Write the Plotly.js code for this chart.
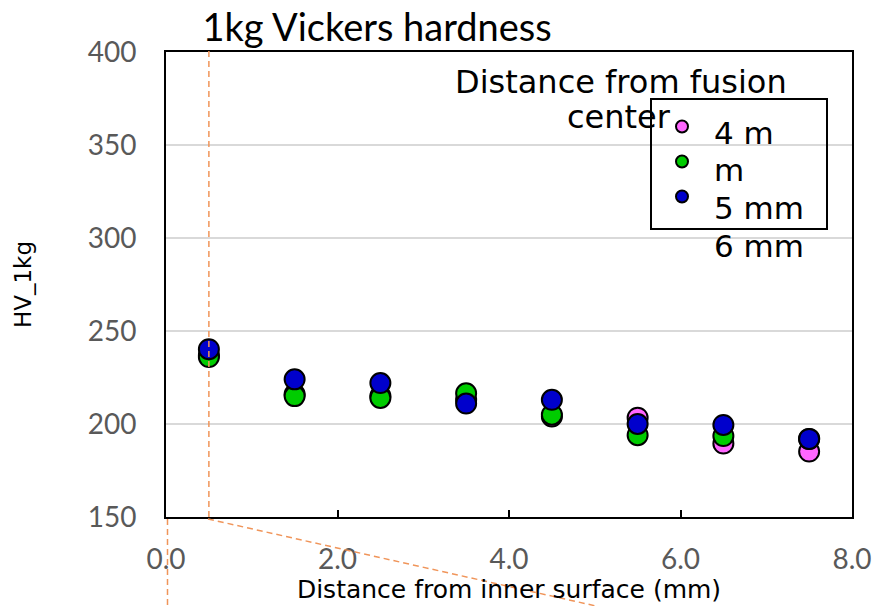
<!DOCTYPE html>
<html>
<head>
<meta charset="utf-8">
<script src="https://cdn.plot.ly/plotly-3.0.1.min.js"></script>
<style>html,body{margin:0;padding:0;background:#fff;}#chart{width:873px;height:606px;}</style>
</head>
<body>
<div id="chart"></div>
<script>
// Distance from inner surface (mm)
const distance = [0.5, 1.5, 2.5, 3.5, 4.5, 5.5, 6.5, 7.5];
// HV_1kg values by distance from fusion center
const hv4mm = [237, 216, 215, 213, 204, 203.4, 189.5, 185.2];
const hv5mm = [236, 215, 214, 216.5, 205, 194, 193.5, 192];
const hv6mm = [240.2, 224, 222, 211, 213, 200, 199.5, 192];
const seriesNames = ["4 mm", "5 mm", "6 mm"];
const legendLines = ["4 m", "m", "5 mm", "6 mm"];
const xTicks = [0, 2, 4, 6, 8];
const xTickText = ["0.0", "2.0", "4.0", "6.0", "8.0"];
const yTicks = [150, 200, 250, 300, 350, 400];

// plot-area pixel helpers for decorations (paper coords)
const L = 166, R = 852, T = 52, B = 517;
const px = v => (v - L) / (R - L);
const py = v => (B - v) / (B - T);

const markerLine = {color: "#000000", width: 2};
const traces = [
  {x: distance, y: hv4mm, name: seriesNames[0], legendgroup: "a", type: "scatter", mode: "markers",
   marker: {color: "#FF66FF", size: 20, line: markerLine}},
  {x: distance, y: hv5mm, name: seriesNames[1], legendgroup: "b", type: "scatter", mode: "markers",
   marker: {color: "#00CC00", size: 20, line: markerLine}},
  {x: distance, y: hv6mm, name: seriesNames[2], legendgroup: "c", type: "scatter", mode: "markers",
   marker: {color: "#0000CC", size: 20, line: markerLine}}
];

const orange = "#F0955A";
const legFont = {family: "DejaVu Sans, sans-serif", size: 31, color: "#000000"};
const legendAnn = legendLines.map((t, i) => ({
  text: t, xref: "paper", yref: "paper", x: px(712), y: py([133, 170, 208, 246][i]),
  xanchor: "left", yanchor: "middle", showarrow: false, font: legFont
}));

const layout = {
  width: 873, height: 606,
  margin: {l: L, r: 873 - R, t: T, b: 606 - B},
  paper_bgcolor: "#ffffff", plot_bgcolor: "#ffffff",
  title: {text: "1kg Vickers hardness", x: 0.432, xanchor: "center", xref: "container",
          y: 0.955, yanchor: "middle", yref: "container",
          font: {family: "Lato, 'Open Sans', sans-serif", size: 38, color: "#000000"}},
  xaxis: {range: [0, 8], tickvals: xTicks, ticktext: xTickText,
          showgrid: false, zeroline: false,
          showline: true, linecolor: "#000000", linewidth: 2, mirror: true,
          ticks: "inside", ticklen: 7, tickwidth: 2, tickcolor: "#000000",
          ticklabelstandoff: 16,
          tickfont: {family: "Lato, sans-serif", size: 28, color: "#595959"},
          title: {text: "Distance from inner surface (mm)", standoff: 6,
                  font: {family: "DejaVu Sans, sans-serif", size: 25, color: "#000000"}}},
  yaxis: {range: [150, 400], tickvals: yTicks,
          showgrid: true, gridcolor: "#D9D9D9", gridwidth: 2, zeroline: false,
          showline: true, linecolor: "#000000", linewidth: 2, mirror: true,
          ticks: "", ticklabelstandoff: 22,
          tickfont: {family: "Lato, sans-serif", size: 28, color: "#595959"},
          title: {text: "HV_1kg", standoff: 50,
                  font: {family: "DejaVu Sans, sans-serif", size: 23, color: "#000000"}}},
  showlegend: true,
  legend: {x: px(662), xanchor: "left", y: py(112), yanchor: "top",
           bgcolor: "rgba(255,255,255,0)", borderwidth: 0,
           font: {family: "DejaVu Sans, sans-serif", size: 1, color: "rgba(0,0,0,0)"},
           itemsizing: "constant", tracegroupgap: 16},
  shapes: [
    {type: "line", xref: "x", yref: "paper", x0: 0.5, x1: 0.5, y0: 0, y1: 1.01,
     line: {color: orange, width: 1.5, dash: "6px,4px"}, layer: "above"},
    {type: "line", xref: "paper", yref: "paper", x0: px(208), y0: py(519), x1: px(596), y1: py(606),
     line: {color: orange, width: 1.5, dash: "6px,4px"}, layer: "above"},
    {type: "line", xref: "paper", yref: "paper", x0: px(167.5), y0: py(519), x1: px(167.5), y1: py(606),
     line: {color: orange, width: 1.5, dash: "6px,4px"}, layer: "above"},
    {type: "rect", xref: "paper", yref: "paper", x0: px(651), y0: py(99), x1: px(827), y1: py(229),
     line: {color: "#000000", width: 2}, fillcolor: "rgba(0,0,0,0)", layer: "above"}
  ],
  annotations: [
    {text: "Distance from fusion", xref: "paper", yref: "paper",
     x: px(621), y: py(82), xanchor: "center", yanchor: "middle",
     showarrow: false, font: {family: "DejaVu Sans, sans-serif", size: 32, color: "#000000"}},
    {text: "center", xref: "paper", yref: "paper",
     x: px(619), y: py(117), xanchor: "center", yanchor: "middle",
     showarrow: false, font: {family: "DejaVu Sans, sans-serif", size: 32, color: "#000000"}}
  ].concat(legendAnn)
};

Plotly.newPlot("chart", traces, layout, {displayModeBar: false, staticPlot: true});
</script>
</body>
</html>
